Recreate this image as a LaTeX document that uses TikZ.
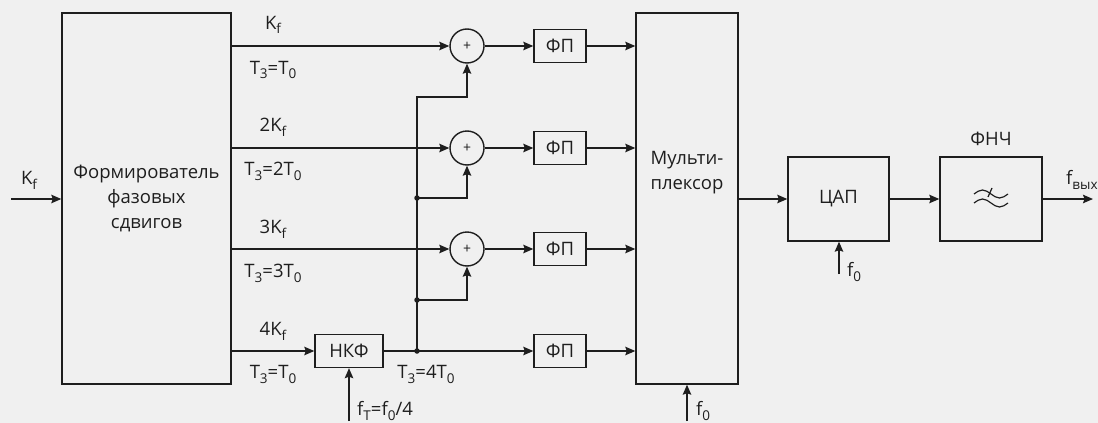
\documentclass[tikz,border=0pt]{standalone}
\usepackage{fontspec}
\setmainfont{Open Sans}
\usetikzlibrary{arrows.meta}
\definecolor{bg}{RGB}{240,240,240}
\definecolor{ln}{RGB}{30,30,30}
\newcommand{\lsub}[1]{\raisebox{-5pt}{\fontsize{13.5}{14}\selectfont #1}}
\begin{document}
\begin{tikzpicture}[x=1pt,y=-1pt,
  every node/.style={font=\fontsize{18.5}{25}\selectfont, text=ln},
  box/.style={draw=ln, line width=1.4pt, inner sep=0pt},
  con/.style={draw=ln, line width=1.4pt},
  arr/.style={con, -{Stealth[length=10pt,width=8.5pt,inset=1.5pt]}},
  dot/.style={circle, fill=ln, inner sep=0pt, minimum size=5.5pt},
  sum/.style={box, circle, minimum size=34pt, font=\fontsize{14}{15}\selectfont},
  fpbox/.style={box, minimum width=52pt, minimum height=33pt},
  lab/.style={anchor=base, inner sep=0pt}]
\fill[bg] (0,0) rectangle (1098,423);
\useasboundingbox (0,0) rectangle (1098,423);

% blocks
\node[box, minimum width=169pt, minimum height=371pt, align=center] (form) at (146.5,198.5) {Формирователь\\фазовых\\сдвигов};
\node[sum] (s1) at (467,46) {+};
\node[sum] (s2) at (467,148) {+};
\node[sum] (s3) at (467,249) {+};
\node[fpbox] (fp1) at (560,46) {ФП};
\node[fpbox] (fp2) at (560,148) {ФП};
\node[fpbox] (fp3) at (560,249) {ФП};
\node[fpbox] (fp4) at (560,351) {ФП};
\node[box, minimum width=68pt, minimum height=33pt] (nkf) at (349,351) {НКФ};
\node[box, minimum width=102pt, minimum height=371pt] (mux) at (687,198.5) {};
\node[align=center, inner sep=0pt] (muxtxt) at (687,173) {Мульти-\\плексор};
\node[box, minimum width=101pt, minimum height=84pt] (dac) at (838.5,199) {ЦАП};
\node[box, minimum width=102pt, minimum height=84pt] (lpf) at (991,199) {};
\node[inner sep=0pt] (lpflab) at (991,139) {ФНЧ};

% filter symbol
\draw[ln, line width=1.2pt] (974,194) sin (982.5,190) cos (991,194) sin (999.5,198) cos (1008,194);
\draw[ln, line width=1.2pt] (974,203) sin (982.5,199) cos (991,203) sin (999.5,207) cos (1008,203);
\draw[ln, line width=1.2pt] (988,197) -- (992,188);

% coordinates
\coordinate (in) at (11,199);
\coordinate (j2) at (417,198);
\coordinate (j3) at (417,300);
\coordinate (j4) at (417,351);
\coordinate (c1) at (467,97);
\coordinate (c2) at (467,198);
\coordinate (c3) at (467,300);
\coordinate (out) at (1093,199);
\coordinate (fn) at (349,421);
\coordinate (fm) at (687,421);
\coordinate (fd) at (839,274);

% connectors
\draw[arr] (in) -- (form.west |- in);
\draw[arr] (form.east |- s1) -- (s1.west);
\draw[arr] (form.east |- s2) -- (s2.west);
\draw[arr] (form.east |- s3) -- (s3.west);
\draw[arr] (form.east |- nkf) -- (nkf.west);
\draw[arr] (nkf.east) -- (fp4.west);
\draw[arr] (s1.east) -- (fp1.west);
\draw[arr] (s2.east) -- (fp2.west);
\draw[arr] (s3.east) -- (fp3.west);
\draw[arr] (j4) |- (c1) -- (s1.south);
\draw[arr] (j2) -- (c2) -- (s2.south);
\draw[arr] (j3) -- (c3) -- (s3.south);
\node[dot] at (j2) {};
\node[dot] at (j3) {};
\node[dot] at (j4) {};
\draw[arr] (fp1.east) -- (mux.west |- fp1.east);
\draw[arr] (fp2.east) -- (mux.west |- fp2.east);
\draw[arr] (fp3.east) -- (mux.west |- fp3.east);
\draw[arr] (fp4.east) -- (mux.west |- fp4.east);
\draw[arr] (mux.east |- dac.west) -- (dac.west);
\draw[arr] (dac.east) -- (lpf.west);
\draw[arr] (lpf.east) -- (out);
\draw[arr] (fn) -- (fn |- nkf.south);
\draw[arr] (fm) -- (fm |- mux.south);
\draw[arr] (fd) -- (fd |- dac.south);

% labels
\node[lab] (lin) at (29,184) {K\lsub{f}};
\node[lab] (l1a) at (273,29) {K\lsub{f}};
\node[lab] (l1b) at (273,74) {T\lsub{3}=T\lsub{0}};
\node[lab] (l2a) at (273,131) {2K\lsub{f}};
\node[lab] (l2b) at (273,175) {T\lsub{3}=2T\lsub{0}};
\node[lab] (l3a) at (273,233) {3K\lsub{f}};
\node[lab] (l3b) at (273,277) {T\lsub{3}=3T\lsub{0}};
\node[lab] (l4a) at (273,335) {4K\lsub{f}};
\node[lab] (l4b) at (273,378) {T\lsub{3}=T\lsub{0}};
\node[lab] (l5) at (426,378) {T\lsub{3}=4T\lsub{0}};
\node[lab, anchor=base west] (lft) at (357,415) {f\lsub{T}=f\lsub{0}/4};
\node[lab, anchor=base west] (lfm) at (696,415) {f\lsub{0}};
\node[lab, anchor=base west] (lfd) at (847,276) {f\lsub{0}};
\node[lab, anchor=base west] (lout) at (1066,184) {f\lsub{вых}};
\end{tikzpicture}
\end{document}
